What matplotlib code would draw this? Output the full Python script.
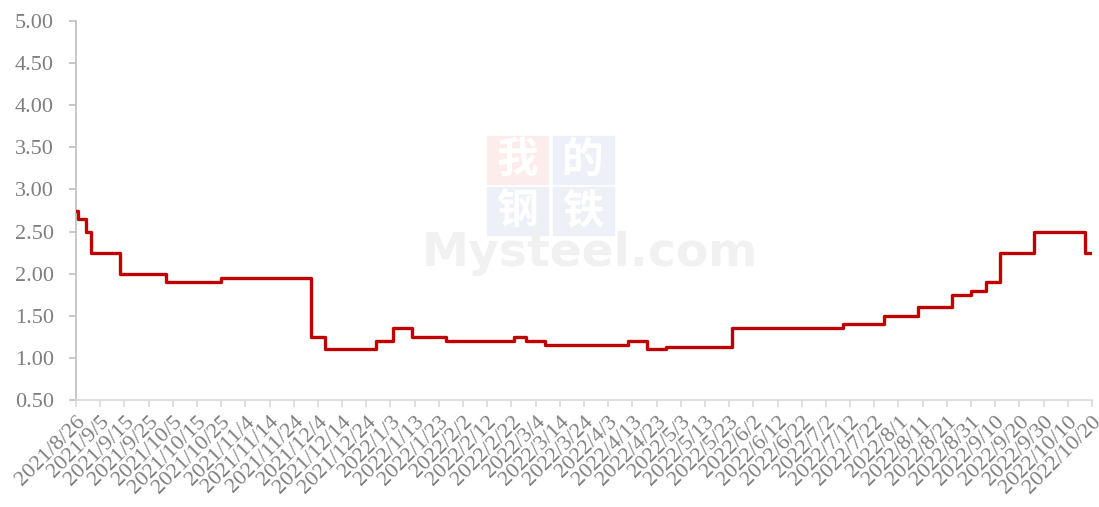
import numpy as np
import pandas as pd
import matplotlib.pyplot as plt
from matplotlib.patches import Rectangle

# Даты изменения цены и значения (ступенчатый ряд)
change_dates = ['2021-08-26', '2021-08-27', '2021-08-30', '2021-09-01', '2021-09-13',
                '2021-10-02', '2021-10-25', '2021-12-01', '2021-12-07', '2021-12-28',
                '2022-01-04', '2022-01-12', '2022-01-26', '2022-02-23', '2022-02-28',
                '2022-03-08', '2022-04-11', '2022-04-19', '2022-04-27', '2022-05-24',
                '2022-07-09', '2022-07-26', '2022-08-09', '2022-08-23', '2022-08-31',
                '2022-09-06', '2022-09-12', '2022-09-26', '2022-10-17', '2022-10-20']
change_values = [2.75, 2.65, 2.50, 2.25, 2.00,
                 1.90, 1.95, 1.25, 1.10, 1.20,
                 1.35, 1.25, 1.20, 1.25, 1.20,
                 1.15, 1.20, 1.10, 1.13, 1.35,
                 1.40, 1.50, 1.60, 1.75, 1.80,
                 1.90, 2.25, 2.50, 2.25, 2.25]

start = pd.Timestamp('2021-08-26')
end = pd.Timestamp('2022-10-20')
tick_dates = pd.date_range(start, end, freq='10D')
tick_labels = [f'{d.year}/{d.month}/{d.day}' for d in tick_dates]
y_ticks = np.arange(0.5, 5.01, 0.5)

grey = '#7f7f7f'
fig = plt.figure(figsize=(10.99, 5.07), dpi=100)
ax = fig.add_axes([76 / 1099, 1 - 400 / 507, 1016 / 1099, 379 / 507])

# Водяной знак
wm = [(487, 136, '#fdecec', '我'), (553, 136, '#eef0f7', '的'),
      (487, 187, '#eef0f7', '钢'), (553, 187, '#eef0f7', '铁')]
for px, py, col, ch in wm:
    fig.patches.append(Rectangle((px / 1099, 1 - (py + 48) / 507), 61 / 1099, 48 / 507,
                                 transform=fig.transFigure, color=col, zorder=0))
    fig.text((px + 30) / 1099, 1 - (py + 24) / 507, ch, color='white', fontsize=30,
             family='Noto Sans CJK SC', fontweight='bold', ha='center', va='center', zorder=1)
fig.text(590 / 1099, 1 - 253 / 507, 'Mysteel.com', color='#f1f1f1', fontsize=34,
         family='DejaVu Sans', fontweight='bold', ha='center', va='center', zorder=1)
ax.patch.set_alpha(0)

x = pd.to_datetime(change_dates)
ax.step(x, change_values, where='post', color='#c00000', lw=2.4, zorder=3,
        solid_joinstyle='round')

ax.set_xlim(start, end)
ax.set_ylim(0.5, 5.0)
ax.set_yticks(y_ticks)
ax.set_yticklabels([f'{v:.2f}' for v in y_ticks])
ax.set_xticks(tick_dates)
ax.set_xticklabels(tick_labels, rotation=45, ha='right', va='top', rotation_mode='anchor')

for s in ['top', 'right']:
    ax.spines[s].set_visible(False)
ax.spines['left'].set_color('#bfbfbf')
ax.spines['bottom'].set_color('#d9d9d9')
ax.spines['left'].set_linewidth(1.2)
ax.spines['bottom'].set_linewidth(1.2)
ax.tick_params(axis='y', colors='#bfbfbf', labelcolor=grey, length=5, width=1.2, pad=11)
ax.tick_params(axis='x', colors='#d9d9d9', labelcolor=grey, length=5, width=1.2, pad=4)
for lab in ax.get_yticklabels():
    lab.set_fontfamily('Liberation Serif')
    lab.set_fontsize(16)
for lab in ax.get_xticklabels():
    lab.set_fontfamily('Liberation Serif')
    lab.set_fontsize(16)

fig.savefig('out.png', dpi=100)
